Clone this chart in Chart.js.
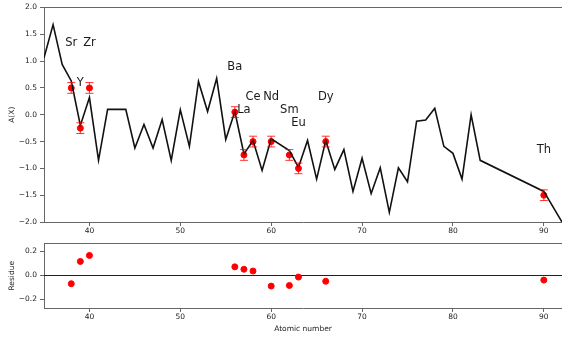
<!DOCTYPE html>
<html>
<head>
<meta charset="utf-8">
<script src="https://cdn.jsdelivr.net/npm/chart.js@4"></script>
<style>
  html, body { margin: 0; padding: 0; background: #fff; overflow: hidden; }
  #wrap { position: relative; width: 562px; height: 337px; }
  canvas { position: absolute; left: 0; }
  #top { top: 0; }
  #res { top: 236px; }
</style>
</head>
<body>
<div id="wrap">
  <canvas id="top" width="562" height="236"></canvas>
  <canvas id="res" width="562" height="101"></canvas>
</div>
<script>
// model abundance curve, one point per element (Pm and 84-89 are skipped)
const modelZ = [35, 36, 37, 38, 39, 40, 41, 42, 43, 44, 45, 46, 47, 48, 49, 50, 51, 52, 53, 54,
  55, 56, 57, 58, 59, 60, 62, 63, 64, 65, 66, 67, 68, 69, 70, 71, 72, 73, 74, 75, 76, 77, 78,
  79, 80, 81, 82, 83, 90, 92];
const modelA = [1.06, 1.68, 0.94, 0.63, -0.2, 0.32, -0.85, 0.1, 0.1, 0.1, -0.62, -0.18, -0.62,
  -0.09, -0.85, 0.09, -0.59, 0.62, 0.06, 0.68, -0.46, 0.06, -0.73, -0.48, -1.04, -0.45, -0.67,
  -0.98, -0.48, -1.2, -0.48, -1.02, -0.65, -1.43, -0.81, -1.47, -0.99, -1.82, -0.99, -1.25,
  -0.12, -0.1, 0.12, -0.59, -0.72, -1.2, 0.0, -0.85, -1.43, -2.0];

// measured elements
const obsZ = [38, 39, 40, 56, 57, 58, 60, 62, 63, 66, 90];
const obsA = [0.5, -0.25, 0.5, 0.05, -0.75, -0.5, -0.5, -0.75, -1.0, -0.5, -1.5];
const obsErr = [0.1, 0.1, 0.1, 0.1, 0.1, 0.1, 0.1, 0.1, 0.1, 0.1, 0.1];
const residue = [-0.07, 0.115, 0.165, 0.07, 0.05, 0.035, -0.09, -0.085, -0.015, -0.05, -0.04];

// element names and the height they are written at
const obsNames = ['Sr', 'Y', 'Zr', 'Ba', 'La', 'Ce', 'Nd', 'Sm', 'Eu', 'Dy', 'Th'];
const nameZ = [38, 39, 40, 56, 57, 58, 60, 62, 63, 66, 90];
const nameA = [1.34, 0.6, 1.34, 0.89, 0.09, 0.34, 0.34, 0.09, -0.16, 0.34, -0.65];

const zTicks = [40, 50, 60, 70, 80, 90];
const aTicks = [-2, -1.5, -1, -0.5, 0, 0.5, 1, 1.5, 2];
const resTicks = [-0.2, 0, 0.2];

const FONT = 'DejaVu Sans';
const SPINE = '#666';
const TICKTXT = '#222';

const fmt = v => v.toFixed(1).replace('-', '\u2212');
const pts = (xs, ys) => xs.map((x, i) => ({ x: x, y: ys[i] }));

function xAxis(height, withTitle) {
  return {
    type: 'linear', min: 35, max: 92,
    afterBuildTicks: s => { s.ticks = zTicks.map(v => ({ value: v })); },
    afterFit: s => { s.height = height; },
    grid: { drawOnChartArea: false, drawTicks: true, tickLength: 4, color: SPINE },
    border: { display: true, color: SPINE, width: 1 },
    ticks: { color: TICKTXT, font: { family: FONT, size: 7.5 }, padding: 1,
             maxRotation: 0, autoSkip: false, callback: v => String(v) },
    title: { display: withTitle, text: 'Atomic number', color: TICKTXT,
             font: { family: FONT, size: 7.5 }, padding: { top: 0, bottom: 3 } }
  };
}

function yAxis(min, max, tickList, label) {
  return {
    type: 'linear', min: min, max: max,
    afterBuildTicks: s => { s.ticks = tickList.map(v => ({ value: v })); },
    afterFit: s => { s.width = 44; },
    grid: { drawOnChartArea: false, drawTicks: true, tickLength: 4, color: SPINE },
    border: { display: true, color: SPINE, width: 1 },
    ticks: { color: TICKTXT, font: { family: FONT, size: 7.5 }, padding: 3, callback: v => fmt(v) },
    title: { display: true, text: label, color: TICKTXT,
             font: { family: FONT, size: 7.5 }, padding: { top: 8, bottom: 0 } }
  };
}

// top spine (the right one falls outside the figure)
const topSpine = {
  id: 'topSpine',
  afterDraw(chart) {
    const { ctx, chartArea: a } = chart;
    ctx.save();
    ctx.strokeStyle = SPINE;
    ctx.lineWidth = 1;
    ctx.beginPath();
    ctx.moveTo(a.left, a.top);
    ctx.lineTo(a.right, a.top);
    ctx.stroke();
    ctx.restore();
  }
};

// error bars go on top of the model line, under the red markers
const errorBars = {
  id: 'errorBars',
  afterDatasetDraw(chart, args) {
    if (args.index !== 0) return;
    const { ctx, scales: { x, y } } = chart;
    ctx.save();
    ctx.strokeStyle = 'rgba(255, 0, 0, 0.8)';
    ctx.lineWidth = 1;
    obsZ.forEach((z, i) => {
      const px = x.getPixelForValue(z);
      const lo = y.getPixelForValue(obsA[i] - obsErr[i]);
      const hi = y.getPixelForValue(obsA[i] + obsErr[i]);
      ctx.beginPath();
      ctx.moveTo(px, lo); ctx.lineTo(px, hi);
      ctx.moveTo(px - 4, lo); ctx.lineTo(px + 4, lo);
      ctx.moveTo(px - 4, hi); ctx.lineTo(px + 4, hi);
      ctx.stroke();
    });
    ctx.restore();
  }
};

const elementNames = {
  id: 'elementNames',
  afterDatasetsDraw(chart) {
    const { ctx, scales: { x, y } } = chart;
    ctx.save();
    ctx.fillStyle = '#1a1a1a';
    ctx.font = '11.5px "' + FONT + '"';
    ctx.textAlign = 'center';
    ctx.textBaseline = 'middle';
    obsNames.forEach((n, i) => {
      ctx.fillText(n, x.getPixelForValue(nameZ[i]), y.getPixelForValue(nameA[i]));
    });
    ctx.restore();
  }
};

// horizontal reference line at zero residue
const zeroLine = {
  id: 'zeroLine',
  beforeDatasetsDraw(chart) {
    const { ctx, chartArea: a, scales: { y } } = chart;
    const py = Math.round(y.getPixelForValue(0)) + 0.5;
    ctx.save();
    ctx.strokeStyle = '#222';
    ctx.lineWidth = 1;
    ctx.beginPath();
    ctx.moveTo(a.left, py);
    ctx.lineTo(a.right, py);
    ctx.stroke();
    ctx.restore();
  }
};

// no automatic padding: the plot runs right up to the figure edge
const layoutTop = { autoPadding: false, padding: { top: 6, left: 0, right: 0, bottom: 0 } };
const layoutRes = { autoPadding: false, padding: { top: 1, left: 0, right: 0, bottom: 0 } };

new Chart(document.getElementById('top'), {
  type: 'scatter',
  data: {
    datasets: [
      { data: pts(modelZ, modelA), showLine: true, borderColor: '#111', borderWidth: 1.6,
        pointRadius: 0, tension: 0 },
      { data: pts(obsZ, obsA), backgroundColor: '#ff0000', borderColor: '#ff0000',
        pointRadius: 3, showLine: false }
    ]
  },
  options: {
    responsive: false, animation: false, devicePixelRatio: 1,
    layout: layoutTop,
    plugins: { legend: { display: false }, tooltip: { enabled: false } },
    scales: { x: xAxis(14, false), y: yAxis(-2, 2, aTicks, 'A(X)') }
  },
  plugins: [errorBars, elementNames, topSpine]
});

new Chart(document.getElementById('res'), {
  type: 'scatter',
  data: {
    datasets: [
      { data: pts(obsZ, residue), backgroundColor: '#ff0000', borderColor: '#ff0000',
        pointRadius: 3, showLine: false }
    ]
  },
  options: {
    responsive: false, animation: false, devicePixelRatio: 1,
    layout: layoutRes,
    plugins: { legend: { display: false }, tooltip: { enabled: false } },
    scales: { x: xAxis(29, true), y: yAxis(-0.272, 0.264, resTicks, 'Residue') }
  },
  plugins: [zeroLine, topSpine]
});
</script>
</body>
</html>
